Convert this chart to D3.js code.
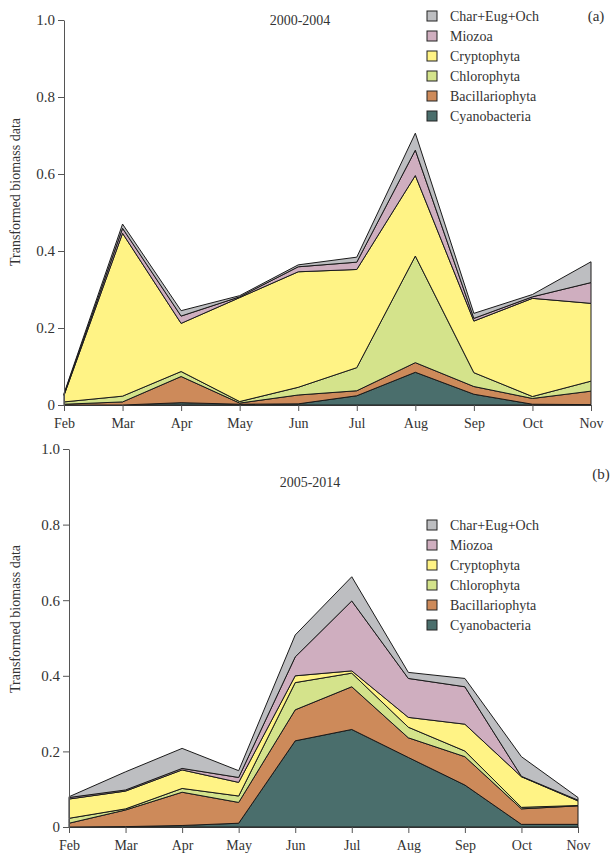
<!DOCTYPE html>
<html><head><meta charset="utf-8">
<script src="https://cdn.jsdelivr.net/npm/d3@7"></script>
<style>
body{margin:0;background:#fff;}
svg{display:block;font-family:"Liberation Serif","DejaVu Serif",serif;}
</style></head>
<body>
<svg id="chart" width="611" height="862"></svg>
<script>
const months = ["Feb","Mar","Apr","May","Jun","Jul","Aug","Sep","Oct","Nov"];
const groups = ["Cyanobacteria","Bacillariophyta","Chlorophyta","Cryptophyta","Miozoa","Char+Eug+Och"];
const colors = ["#4a6e6c","#cd8a5a","#d4e38b","#fff385","#cfaebf","#bdbec1"];
const yTicks = [0,0.2,0.4,0.6,0.8,1.0];
const yTickLabels = ["0","0.2","0.4","0.6","0.8","1.0"];

// Panel (a) 2000-2004 — per-group values
const a_cyano  = [0.000,0.000,0.006,0.002,0.003,0.024,0.085,0.028,0.002,0.001];
const a_bac    = [0.002,0.008,0.068,0.003,0.023,0.013,0.025,0.020,0.015,0.035];
const a_chloro = [0.006,0.015,0.013,0.004,0.020,0.060,0.277,0.036,0.005,0.026];
const a_crypto = [0.017,0.423,0.125,0.270,0.300,0.255,0.209,0.134,0.255,0.202];
const a_miozoa = [0.002,0.013,0.019,0.002,0.013,0.019,0.066,0.007,0.004,0.054];
const a_char   = [0.003,0.011,0.014,0.003,0.005,0.013,0.044,0.013,0.006,0.054];

// Panel (b) 2005-2014
const b_cyano  = [0.000,0.001,0.004,0.010,0.228,0.258,0.184,0.111,0.007,0.007];
const b_bac    = [0.010,0.044,0.088,0.055,0.082,0.113,0.052,0.075,0.041,0.049];
const b_chloro = [0.013,0.003,0.010,0.017,0.072,0.036,0.028,0.015,0.004,0.001];
const b_crypto = [0.051,0.047,0.049,0.036,0.018,0.006,0.026,0.071,0.081,0.012];
const b_miozoa = [0.004,0.003,0.004,0.013,0.050,0.185,0.103,0.099,0.001,0.002];
const b_char   = [0.002,0.048,0.053,0.018,0.058,0.064,0.016,0.022,0.052,0.007];

const panels = [
  {series:[a_cyano,a_bac,a_chloro,a_crypto,a_miozoa,a_char], x0:64, x1:591, yTop:20, yBot:405,
   title:"2000-2004", titleX:300, titleY:25, tag:"(a)", tagX:596, tagY:21, legX:427, legY:16, monthY:423, labelY:192},
  {series:[b_cyano,b_bac,b_chloro,b_crypto,b_miozoa,b_char], x0:69, x1:578, yTop:449, yBot:827,
   title:"2005-2014", titleX:310, titleY:487, tag:"(b)", tagX:601, tagY:479, legX:427, legY:525, monthY:857, labelY:619}
];

const svg = d3.select("#chart");

panels.forEach(p => {
  const data = months.map((m,i) => {
    const o = {month:m};
    groups.forEach((g,k) => o[g] = p.series[k][i]);
    return o;
  });
  const x = d3.scalePoint().domain(months).range([p.x0,p.x1]);
  const y = d3.scaleLinear().domain([0,1]).range([p.yBot,p.yTop]);
  const stack = d3.stack().keys(groups)(data);
  const area = d3.area().x(d=>x(d.data.month)).y0(d=>y(d[0])).y1(d=>y(d[1]));
  const g = svg.append("g");
  g.selectAll("path.layer").data(stack).enter().append("path")
    .attr("class","layer")
    .attr("d",area)
    .attr("fill",(d,i)=>colors[i])
    .attr("stroke","#1a1a1a").attr("stroke-width",1).attr("stroke-linejoin","miter");

  // y axis
  const yAxis = d3.axisLeft(y).tickValues(yTicks).tickFormat((d,i)=>yTickLabels[i]).tickSize(6).tickSizeOuter(0);
  const ya = g.append("g").attr("transform",`translate(${p.x0},0)`).call(yAxis);
  ya.select(".domain").attr("stroke","#555");
  ya.selectAll(".tick line").attr("stroke","#555");
  ya.selectAll("text").attr("font-size",15).attr("fill","#333").attr("font-family","Liberation Serif, serif").attr("x",-9);

  // x axis
  const xAxis = d3.axisBottom(x).tickSize(6).tickSizeOuter(0).tickPadding(7);
  const xa = g.append("g").attr("transform",`translate(0,${p.yBot})`).call(xAxis);
  xa.select(".domain").attr("stroke","#333");
  xa.selectAll(".tick line").attr("stroke","#555");
  xa.selectAll("text").attr("font-size",14).attr("fill","#333").attr("font-family","Liberation Serif, serif");

  // y label
  g.append("text").attr("transform",`translate(20,${p.labelY}) rotate(-90)`)
    .attr("text-anchor","middle").attr("font-size",14).attr("fill","#333")
    .text("Transformed biomass data");

  g.append("text").attr("x",p.titleX).attr("y",p.titleY).attr("text-anchor","middle")
    .attr("font-size",14).attr("fill","#333").text(p.title);
  g.append("text").attr("x",p.tagX).attr("y",p.tagY).attr("text-anchor","middle")
    .attr("font-size",15).attr("fill","#333").text(p.tag);

  // legend (top to bottom: reverse of stack)
  const legOrder = groups.map((gname,i)=>({name:gname,color:colors[i]})).reverse();
  const leg = g.append("g");
  legOrder.forEach((d,i) => {
    const yy = p.legY + i*20;
    leg.append("rect").attr("x",p.legX).attr("y",yy-5).attr("width",10).attr("height",10)
      .attr("fill",d.color).attr("stroke","#222").attr("stroke-width",1);
    leg.append("text").attr("x",p.legX+23).attr("y",yy+5).attr("font-size",14).attr("fill","#333").text(d.name);
  });
});
</script>
</body></html>
